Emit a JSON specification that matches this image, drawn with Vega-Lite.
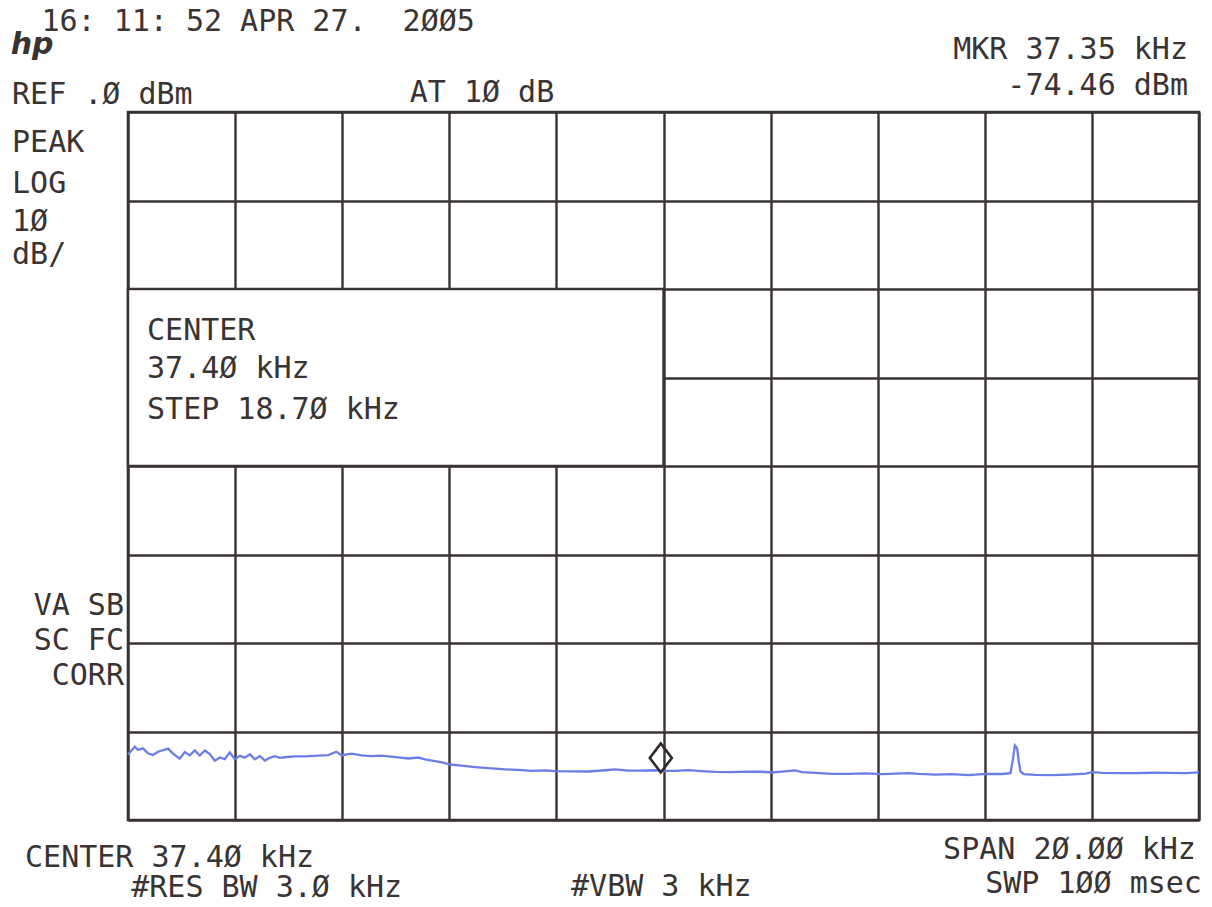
{
  "$schema": "https://vega.github.io/schema/vega-lite/v6.json",
  "width": 1071,
  "height": 708,
  "autosize": "none",
  "padding": {"left": 128, "top": 112, "right": 13, "bottom": 87},
  "background": "#ffffff",
  "config": {
    "view": {"stroke": "#3a3333", "strokeWidth": 2.6},
    "axis": {"grid": true, "gridColor": "#3a3333", "gridWidth": 2.4, "gridOpacity": 1, "labels": false, "ticks": false, "domain": false, "title": null},
    "text": {"font": "DejaVu Sans Mono", "fontSize": 30, "color": "#3a3333", "baseline": "middle"}
  },
  "datasets": {
    "trace": [
      {"f": 27.400, "db": -72.63}, {"f": 27.525, "db": -71.71}, {"f": 27.587, "db": -72.08}, {"f": 27.680, "db": -71.90},
      {"f": 27.774, "db": -72.47}, {"f": 27.867, "db": -72.66}, {"f": 27.961, "db": -72.29}, {"f": 28.148, "db": -71.93},
      {"f": 28.241, "db": -72.50}, {"f": 28.366, "db": -73.07}, {"f": 28.460, "db": -72.32}, {"f": 28.553, "db": -72.70},
      {"f": 28.647, "db": -72.14}, {"f": 28.740, "db": -72.71}, {"f": 28.834, "db": -72.15}, {"f": 28.927, "db": -72.55},
      {"f": 29.021, "db": -73.30}, {"f": 29.114, "db": -72.93}, {"f": 29.207, "db": -73.12}, {"f": 29.301, "db": -72.36},
      {"f": 29.394, "db": -73.13}, {"f": 29.488, "db": -72.75}, {"f": 29.581, "db": -72.95}, {"f": 29.675, "db": -72.58},
      {"f": 29.768, "db": -73.15}, {"f": 29.862, "db": -72.77}, {"f": 29.955, "db": -73.28}, {"f": 30.049, "db": -72.97},
      {"f": 30.142, "db": -72.79}, {"f": 30.236, "db": -72.98}, {"f": 30.329, "db": -72.91}, {"f": 30.516, "db": -72.81},
      {"f": 30.703, "db": -72.82}, {"f": 30.951, "db": -72.72}, {"f": 31.138, "db": -72.66}, {"f": 31.293, "db": -72.28},
      {"f": 31.387, "db": -72.68}, {"f": 31.574, "db": -72.50}, {"f": 31.761, "db": -72.70}, {"f": 31.948, "db": -72.78},
      {"f": 32.134, "db": -72.72}, {"f": 32.260, "db": -72.80}, {"f": 32.447, "db": -72.92}, {"f": 32.634, "db": -73.05},
      {"f": 32.821, "db": -72.94}, {"f": 32.946, "db": -73.14}, {"f": 33.133, "db": -73.34}, {"f": 33.288, "db": -73.53},
      {"f": 33.413, "db": -73.73}, {"f": 33.630, "db": -73.86}, {"f": 33.880, "db": -74.02}, {"f": 34.129, "db": -74.15},
      {"f": 34.441, "db": -74.27}, {"f": 34.751, "db": -74.37}, {"f": 34.938, "db": -74.45}, {"f": 35.189, "db": -74.39},
      {"f": 35.376, "db": -74.48}, {"f": 35.686, "db": -74.50}, {"f": 35.998, "db": -74.52}, {"f": 36.310, "db": -74.38},
      {"f": 36.497, "db": -74.28}, {"f": 36.746, "db": -74.41}, {"f": 36.994, "db": -74.42}, {"f": 37.245, "db": -74.38},
      {"f": 37.350, "db": -74.46}, {"f": 37.490, "db": -74.45}, {"f": 37.618, "db": -74.45}, {"f": 37.867, "db": -74.36},
      {"f": 38.116, "db": -74.48}, {"f": 38.366, "db": -74.57}, {"f": 38.677, "db": -74.59}, {"f": 38.989, "db": -74.53},
      {"f": 39.238, "db": -74.55}, {"f": 39.424, "db": -74.63}, {"f": 39.611, "db": -74.53}, {"f": 39.862, "db": -74.40},
      {"f": 39.985, "db": -74.59}, {"f": 40.235, "db": -74.68}, {"f": 40.545, "db": -74.78}, {"f": 40.857, "db": -74.79},
      {"f": 41.170, "db": -74.73}, {"f": 41.480, "db": -74.82}, {"f": 41.731, "db": -74.77}, {"f": 41.979, "db": -74.70},
      {"f": 42.166, "db": -74.79}, {"f": 42.479, "db": -74.88}, {"f": 42.789, "db": -74.82}, {"f": 43.101, "db": -74.92},
      {"f": 43.413, "db": -74.78}, {"f": 43.723, "db": -74.80}, {"f": 43.880, "db": -74.70}, {"f": 43.929, "db": -73.01},
      {"f": 43.961, "db": -71.58}, {"f": 44.003, "db": -71.88}, {"f": 44.035, "db": -73.39}, {"f": 44.067, "db": -74.52},
      {"f": 44.129, "db": -74.82}, {"f": 44.348, "db": -74.91}, {"f": 44.658, "db": -74.93}, {"f": 44.970, "db": -74.87},
      {"f": 45.282, "db": -74.77}, {"f": 45.405, "db": -74.60}, {"f": 45.592, "db": -74.68}, {"f": 45.904, "db": -74.70},
      {"f": 46.217, "db": -74.71}, {"f": 46.527, "db": -74.66}, {"f": 46.839, "db": -74.68}, {"f": 47.151, "db": -74.70},
      {"f": 47.400, "db": -74.63}
    ],
    "box": [{"f0": 27.4, "f1": 37.4, "db0": -20, "db1": -40}],
    "marker": [{"f": 37.35, "db": -74.46}],
    "labelsCenter": [
      {"label": "16: 11: 52 APR 27.\u00a0\u00a02ØØ5", "f": 29.83, "db": 10.17},
      {"label": "AT 1Ø dB", "f": 34.01, "db": 2.15},
      {"label": "#RES BW 3.Ø kHz", "f": 29.99, "db": -87.69},
      {"label": "#VBW 3 kHz", "f": 37.36, "db": -87.58}
    ],
    "labelsLeft": [
      {"label": "REF .Ø dBm", "f": 25.234, "db": 1.92},
      {"label": "PEAK", "f": 25.234, "db": -3.50},
      {"label": "LOG", "f": 25.234, "db": -8.14},
      {"label": "1Ø", "f": 25.234, "db": -12.43},
      {"label": "dB/", "f": 25.234, "db": -16.16},
      {"label": "CENTER", "f": 27.755, "db": -24.75},
      {"label": "37.4Ø kHz", "f": 27.755, "db": -29.04},
      {"label": "STEP 18.7Ø kHz", "f": 27.755, "db": -33.67},
      {"label": "CENTER 37.4Ø kHz", "f": 25.477, "db": -84.30}
    ],
    "labelsRight": [
      {"label": "MKR 37.35 kHz", "f": 47.194, "db": 7.0},
      {"label": "-74.46 dBm", "f": 47.194, "db": 2.94},
      {"label": "VA SB", "f": 27.325, "db": -55.82},
      {"label": "SC FC", "f": 27.325, "db": -59.78},
      {"label": "CORR", "f": 27.325, "db": -63.73},
      {"label": "SPAN 2Ø.ØØ kHz", "f": 47.343, "db": -83.39},
      {"label": "SWP 1ØØ msec", "f": 47.455, "db": -87.24}
    ],
    "logo": [{"label": "hp", "f": 25.61, "db": 7.57}]
  },
  "layer": [
    {
      "data": {"name": "box"},
      "mark": {"type": "rect", "fill": "#ffffff", "stroke": "#3a3333", "strokeWidth": 2.4},
      "encoding": {
        "x": {"field": "f0", "type": "quantitative", "scale": {"domain": [27.4, 47.4], "nice": false, "zero": false},
              "axis": {"values": [27.4, 29.4, 31.4, 33.4, 35.4, 37.4, 39.4, 41.4, 43.4, 45.4, 47.4]}},
        "x2": {"field": "f1"},
        "y": {"field": "db0", "type": "quantitative", "scale": {"domain": [-80, 0], "nice": false, "zero": false},
              "axis": {"values": [-80, -70, -60, -50, -40, -30, -20, -10, 0]}},
        "y2": {"field": "db1"}
      }
    },
    {
      "data": {"name": "trace"},
      "mark": {"type": "line", "color": "#6b7ee6", "strokeWidth": 2.3, "interpolate": "linear"},
      "encoding": {
        "x": {"field": "f", "type": "quantitative"},
        "y": {"field": "db", "type": "quantitative"}
      }
    },
    {
      "data": {"name": "marker"},
      "mark": {"type": "point", "shape": "M0,-1L0.76,0L0,1L-0.76,0Z", "size": 840, "filled": false, "stroke": "#2e2828", "strokeWidth": 2.6, "opacity": 1},
      "encoding": {
        "x": {"field": "f", "type": "quantitative"},
        "y": {"field": "db", "type": "quantitative"},
        "yOffset": {"value": -13}
      }
    },
    {
      "data": {"name": "labelsCenter"},
      "mark": {"type": "text", "align": "center"},
      "encoding": {
        "x": {"field": "f", "type": "quantitative"},
        "y": {"field": "db", "type": "quantitative"},
        "text": {"field": "label"}
      }
    },
    {
      "data": {"name": "labelsLeft"},
      "mark": {"type": "text", "align": "left"},
      "encoding": {
        "x": {"field": "f", "type": "quantitative"},
        "y": {"field": "db", "type": "quantitative"},
        "text": {"field": "label"}
      }
    },
    {
      "data": {"name": "labelsRight"},
      "mark": {"type": "text", "align": "right"},
      "encoding": {
        "x": {"field": "f", "type": "quantitative"},
        "y": {"field": "db", "type": "quantitative"},
        "text": {"field": "label"}
      }
    },
    {
      "data": {"name": "logo"},
      "mark": {"type": "text", "font": "DejaVu Sans", "fontSize": 30, "fontStyle": "italic", "fontWeight": "bold", "align": "center"},
      "encoding": {
        "x": {"field": "f", "type": "quantitative"},
        "y": {"field": "db", "type": "quantitative"},
        "text": {"field": "label"}
      }
    }
  ]
}
